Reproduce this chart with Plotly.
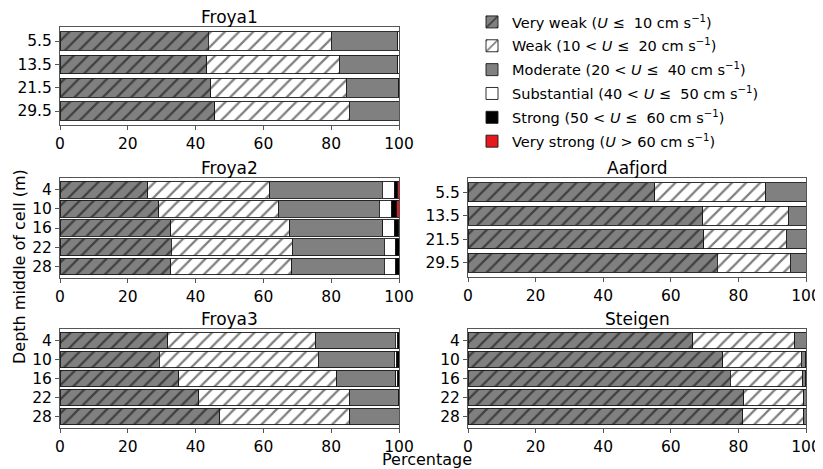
import plotly.graph_objects as go

# ---------------- data ----------------
categories = [
    "Very weak (<i>U</i> ≤  10 cm s<sup>−1</sup>)",
    "Weak (10 < <i>U</i> ≤  20 cm s<sup>−1</sup>)",
    "Moderate (20 < <i>U</i> ≤  40 cm s<sup>−1</sup>)",
    "Substantial (40 < <i>U</i> ≤  50 cm s<sup>−1</sup>)",
    "Strong (50 < <i>U</i> ≤  60 cm s<sup>−1</sup>)",
    "Very strong (<i>U</i> > 60 cm s<sup>−1</sup>)",
]
x_ticks = [0, 20, 40, 60, 80, 100]

froya1_depths = ["5.5", "13.5", "21.5", "29.5"]
froya1_very_weak = [43.7, 43.3, 44.4, 45.7]
froya1_weak = [36.3, 39.1, 40.0, 39.6]
froya1_moderate = [19.6, 17.3, 15.5, 14.7]
froya1_substantial = [0.4, 0.3, 0.1, 0.0]
froya1_strong = [0.0, 0.0, 0.0, 0.0]
froya1_very_strong = [0.0, 0.0, 0.0, 0.0]

froya2_depths = ["4", "10", "16", "22", "28"]
froya2_very_weak = [25.9, 29.1, 32.6, 32.8, 32.6]
froya2_weak = [35.9, 35.3, 35.2, 35.7, 35.8]
froya2_moderate = [33.3, 29.7, 27.4, 27.2, 27.3]
froya2_substantial = [3.5, 3.7, 3.4, 3.2, 3.3]
froya2_strong = [1.0, 1.5, 1.3, 1.1, 1.0]
froya2_very_strong = [0.4, 0.7, 0.1, 0.0, 0.0]

froya3_depths = ["4", "10", "16", "22", "28"]
froya3_very_weak = [31.8, 29.3, 35.1, 41.0, 47.1]
froya3_weak = [43.7, 46.9, 46.5, 44.3, 38.4]
froya3_moderate = [23.4, 22.4, 17.5, 14.6, 14.5]
froya3_substantial = [0.7, 0.7, 0.5, 0.1, 0.0]
froya3_strong = [0.4, 0.7, 0.4, 0.0, 0.0]
froya3_very_strong = [0.0, 0.0, 0.0, 0.0, 0.0]

aafjord_depths = ["5.5", "13.5", "21.5", "29.5"]
aafjord_very_weak = [55.3, 69.5, 69.7, 73.7]
aafjord_weak = [32.8, 25.3, 24.4, 21.7]
aafjord_moderate = [11.9, 5.2, 5.9, 4.6]
aafjord_substantial = [0.0, 0.0, 0.0, 0.0]
aafjord_strong = [0.0, 0.0, 0.0, 0.0]
aafjord_very_strong = [0.0, 0.0, 0.0, 0.0]

steigen_depths = ["4", "10", "16", "22", "28"]
steigen_very_weak = [66.5, 75.4, 77.6, 81.6, 81.3]
steigen_weak = [30.1, 23.2, 21.5, 17.8, 18.0]
steigen_moderate = [3.4, 1.3, 0.8, 0.6, 0.7]
steigen_substantial = [0.0, 0.1, 0.1, 0.0, 0.0]
steigen_strong = [0.0, 0.0, 0.0, 0.0, 0.0]
steigen_very_strong = [0.0, 0.0, 0.0, 0.0, 0.0]

sites = [
    ("Froya1", froya1_depths, [froya1_very_weak, froya1_weak, froya1_moderate,
                               froya1_substantial, froya1_strong, froya1_very_strong]),
    ("Froya2", froya2_depths, [froya2_very_weak, froya2_weak, froya2_moderate,
                               froya2_substantial, froya2_strong, froya2_very_strong]),
    ("Froya3", froya3_depths, [froya3_very_weak, froya3_weak, froya3_moderate,
                               froya3_substantial, froya3_strong, froya3_very_strong]),
    ("Aafjord", aafjord_depths, [aafjord_very_weak, aafjord_weak, aafjord_moderate,
                                 aafjord_substantial, aafjord_strong, aafjord_very_strong]),
    ("Steigen", steigen_depths, [steigen_very_weak, steigen_weak, steigen_moderate,
                                 steigen_substantial, steigen_strong, steigen_very_strong]),
]

# ---------------- styles ----------------
OFF = 8                      # page body margin around the plot div
W, H = 823 - OFF, 469 - OFF  # figure size
fills = ["#808080", "#ffffff", "#808080", "#ffffff", "#000000", "#e41a1c"]
hatched = [True, True, False, False, False, False]


def px(x):
    return (x - OFF) / W


def py(y):
    return 1 - (y - OFF) / H


# panel pixel boxes in page coordinates (x0, x1, ytop, ybottom)
boxes = [
    (60, 399, 27, 125),
    (60, 399, 178, 278),
    (60, 399, 329, 428),
    (468, 806, 178, 277),
    (468, 806, 329, 428),
]

FONT = "DejaVu Sans"
fig = go.Figure()

for i, (name, depths, series) in enumerate(sites):
    ax = "" if i == 0 else str(i + 1)
    n = len(depths)
    ypos = list(range(n))
    bw = 0.8 if n == 4 else 0.88
    for c, vals in enumerate(series):
        pattern = dict(shape="/", fgcolor="#000000", bgcolor=fills[c], size=10, solidity=0.22) \
            if hatched[c] else dict(shape="")
        fig.add_trace(go.Bar(
            x=vals, y=ypos, orientation="h", width=bw,
            name=categories[c], legendgroup=f"g{c}", showlegend=(i == 0),
            marker=dict(color=fills[c], line=dict(color="#1a1a1a", width=0.9), pattern=pattern),
            xaxis="x" + ax, yaxis="y" + ax,
            hovertemplate=name + " %{y}: %{x}%<extra></extra>",
        ))
    x0, x1, yt, yb = boxes[i]
    axis_common = dict(showline=True, mirror=True, linecolor="#555555", linewidth=1,
                       ticks="outside", ticklen=4, tickcolor="#555555",
                       showgrid=False, zeroline=False, automargin=False,
                       tickfont=dict(family=FONT, size=15.5, color="#000"))
    fig.layout["xaxis" + ax] = dict(
        domain=[px(x0), px(x1)], anchor="y" + ax, range=[0, 100],
        tickvals=x_ticks, ticktext=[str(t) for t in x_ticks], **axis_common)
    fig.layout["yaxis" + ax] = dict(
        domain=[py(yb), py(yt)], anchor="x" + ax,
        range=[n - 1 + 0.6, -0.6], tickvals=ypos, ticktext=depths, **axis_common)
    fig.add_annotation(text=name, x=px((x0 + x1) / 2), y=py(yt), xref="paper", yref="paper",
                       xanchor="center", yanchor="bottom", yshift=-1, borderpad=0,
                       showarrow=False, font=dict(family=FONT, size=17, color="#000"))

fig.add_annotation(text="Percentage", x=px(427), y=py(459), xref="paper", yref="paper",
                   xanchor="center", yanchor="middle", showarrow=False, borderpad=0,
                   font=dict(family=FONT, size=16, color="#000"))
fig.add_annotation(text="Depth middle of cell (m)", x=px(19), y=py(267), xref="paper",
                   yref="paper", xanchor="center", yanchor="middle", showarrow=False, textangle=-90,
                   font=dict(family=FONT, size=16, color="#000"))

fig.update_layout(
    width=W, height=H, margin=dict(l=0, r=0, t=0, b=0, autoexpand=False),
    paper_bgcolor="white", plot_bgcolor="white",
    barmode="stack",
    legend=dict(x=px(472), y=py(6), xanchor="left", yanchor="top",
                font=dict(family=FONT, size=14.5, color="#000"),
                tracegroupgap=2, itemwidth=30, bgcolor="rgba(0,0,0,0)"),
    font=dict(family=FONT),
)

fig.write_html("out.html")
